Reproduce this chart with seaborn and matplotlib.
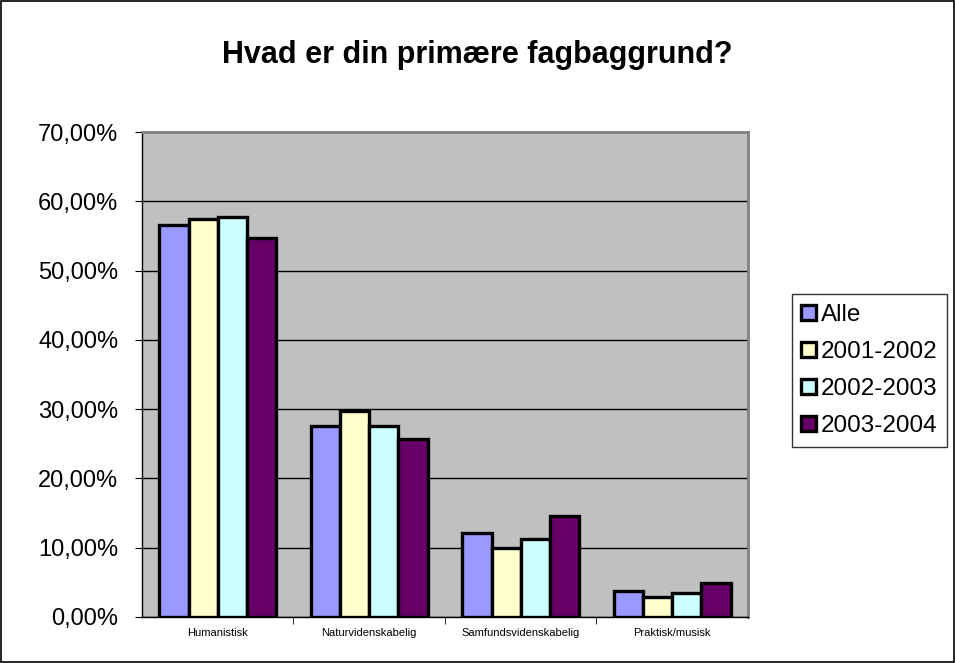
import pandas as pd
import numpy as np
import matplotlib
matplotlib.use('Agg')
import matplotlib.pyplot as plt
import seaborn as sns
from matplotlib.ticker import FuncFormatter

# --- DATA ---
kategorier = ['Humanistisk', 'Naturvidenskabelig', 'Samfundsvidenskabelig', 'Praktisk/musisk']
perioder = ['Alle', '2001-2002', '2002-2003', '2003-2004']
alle = [56.6, 27.6, 12.1, 3.8]
aar_2001 = [57.4, 29.8, 9.9, 2.9]
aar_2002 = [57.7, 27.6, 11.2, 3.4]
aar_2003 = [54.7, 25.7, 14.6, 4.9]
farver = ['#9999FF', '#FFFFCC', '#CCFFFF', '#660066']

df = pd.DataFrame({
    'kategori': kategorier * 4,
    'periode': np.repeat(perioder, len(kategorier)),
    'andel': alle + aar_2001 + aar_2002 + aar_2003,
})

sns.set_style('white')
plt.rcParams['font.family'] = ['Liberation Sans', 'DejaVu Sans']
plt.rcParams['text.color'] = 'black'
plt.rcParams['xtick.color'] = 'black'
plt.rcParams['ytick.color'] = 'black'

fig = plt.figure(figsize=(9.55, 6.63), dpi=100)
ax = fig.add_axes([0.1487, 0.0694, 0.6345, 0.7315])

sns.barplot(data=df, x='kategori', y='andel', hue='periode', hue_order=perioder,
            palette=farver, width=0.77, edgecolor='black', linewidth=2.4,
            saturation=1, ax=ax, legend=True)

ax.set_facecolor('#C0C0C0')
ax.set_ylim(0, 70)
ax.set_yticks(np.arange(0, 71, 10))
ax.yaxis.set_major_formatter(FuncFormatter(lambda v, p: f'{v:.2f}%'.replace('.', ',')))
ax.grid(axis='y', color='black', linewidth=1)
ax.set_axisbelow(True)
ax.set_xlabel('')
ax.set_ylabel('')
ax.set_xlim(-0.5, 3.5)
ax.tick_params(axis='y', labelsize=17, length=5, direction='out', left=True, color='black', pad=12)
ax.tick_params(axis='x', labelsize=8, length=0, pad=8)
# ticks mellem kategorierne
ax.set_xticks([0.5, 1.5, 2.5], minor=True)
ax.tick_params(axis='x', which='minor', length=5, direction='out', bottom=True, color='black')

for side in ['left', 'bottom']:
    ax.spines[side].set_color('black')
    ax.spines[side].set_linewidth(1)
for side in ['top', 'right']:
    ax.spines[side].set_color('#808080')
    ax.spines[side].set_linewidth(2)

handles, labels = ax.get_legend_handles_labels()
ax.get_legend().remove()
leg = fig.legend(handles, labels, loc='upper left', bbox_to_anchor=(0.829, 0.556),
                 fontsize=17.5, frameon=True, fancybox=False, edgecolor='black',
                 handlelength=0.6, handleheight=0.6, handletextpad=0.2,
                 labelspacing=0.62, borderpad=0.4, borderaxespad=0)
leg.get_frame().set_linewidth(1)

fig.suptitle('Hvad er din primære fagbaggrund?', x=0.5, y=0.94, fontsize=22, fontweight='bold')

# ramme om hele figuren
fig.patches.append(plt.Rectangle((0.001, 0.001), 0.998, 0.997, transform=fig.transFigure,
                                 fill=False, edgecolor='black', linewidth=1.2))

plt.savefig('out.png', dpi=100)
